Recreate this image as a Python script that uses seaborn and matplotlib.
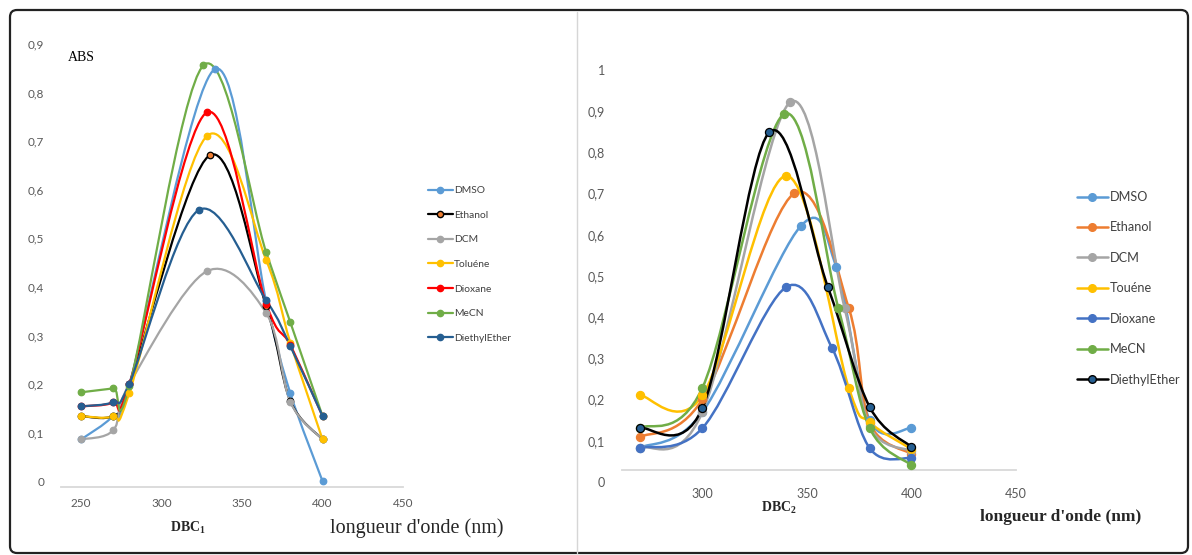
import numpy as np
import matplotlib
matplotlib.use("Agg")
import matplotlib.pyplot as plt
import seaborn as sns
from matplotlib.path import Path
from matplotlib.patches import PathPatch, FancyBboxPatch
from matplotlib.lines import Line2D
from matplotlib.transforms import IdentityTransform

# ---------------- data ----------------
solvents_1 = ["DMSO", "Ethanol", "DCM", "Toluéne", "Dioxane", "MeCN", "DiethylEther"]
x1_dmso = [250, 270, 280, 333, 365, 380, 400]
y1_dmso = [0.086, 0.135, 0.200, 0.848, 0.370, 0.181, 0.000]
x1_ethanol = [250, 270, 280, 330, 365, 380, 400]
y1_ethanol = [0.134, 0.135, 0.200, 0.671, 0.360, 0.165, 0.086]
x1_dcm = [250, 270, 280, 328, 365, 380, 400]
y1_dcm = [0.086, 0.105, 0.200, 0.432, 0.346, 0.163, 0.086]
x1_toluene = [250, 270, 280, 328, 365, 380, 400]
y1_toluene = [0.134, 0.134, 0.182, 0.710, 0.455, 0.285, 0.086]
x1_dioxane = [250, 270, 280, 328, 365, 380, 400]
y1_dioxane = [0.154, 0.162, 0.200, 0.759, 0.365, 0.280, 0.134]
x1_mecn = [250, 270, 280, 326, 365, 380, 400]
y1_mecn = [0.183, 0.191, 0.195, 0.856, 0.471, 0.327, 0.134]
x1_ether = [250, 270, 280, 323, 365, 380, 400]
y1_ether = [0.154, 0.163, 0.201, 0.558, 0.372, 0.278, 0.134]

solvents_2 = ["DMSO", "Ethanol", "DCM", "Touéne", "Dioxane", "MeCN", "DiethylEther"]
x2_dmso = [270, 300, 347, 364, 380, 400]
y2_dmso = [0.083, 0.170, 0.621, 0.522, 0.150, 0.131]
x2_ethanol = [270, 300, 344, 370, 380, 400]
y2_ethanol = [0.109, 0.201, 0.701, 0.422, 0.143, 0.068]
x2_dcm = [270, 300, 342, 368, 380, 400]
y2_dcm = [0.083, 0.170, 0.922, 0.422, 0.135, 0.075]
x2_toluene = [270, 300, 340, 370, 380, 400]
y2_toluene = [0.211, 0.210, 0.743, 0.228, 0.145, 0.080]
x2_dioxane = [270, 300, 340, 362, 380, 400]
y2_dioxane = [0.083, 0.131, 0.473, 0.325, 0.082, 0.058]
x2_mecn = [270, 300, 339, 365, 380, 400]
y2_mecn = [0.131, 0.229, 0.893, 0.422, 0.131, 0.041]
x2_ether = [270, 300, 332, 360, 380, 400]
y2_ether = [0.131, 0.180, 0.849, 0.473, 0.182, 0.085]

yticks_1 = [0, 0.1, 0.2, 0.3, 0.4, 0.5, 0.6, 0.7, 0.8, 0.9]
xticks_1 = [250, 300, 350, 400, 450]
yticks_2 = [0, 0.1, 0.2, 0.3, 0.4, 0.5, 0.6, 0.7, 0.8, 0.9, 1.0]
xticks_2 = [300, 350, 400, 450]

# ---------------- styles ----------------
BLUE, ORANGE, GRAY, GOLD = "#5B9BD5", "#ED7D31", "#A5A5A5", "#FFC000"
GREEN, DKBLUE, RED, MBLUE = "#70AD47", "#255E91", "#FF0000", "#4472C4"

# (line colour, marker face, marker edge)
styles_1 = [(BLUE, BLUE, BLUE), ("black", ORANGE, "black"), (GRAY, GRAY, GRAY),
            (GOLD, GOLD, GOLD), (RED, RED, RED), (GREEN, GREEN, GREEN),
            (DKBLUE, DKBLUE, DKBLUE)]
styles_2 = [(BLUE, BLUE, BLUE), (ORANGE, ORANGE, ORANGE), (GRAY, GRAY, GRAY),
            (GOLD, GOLD, GOLD), (MBLUE, MBLUE, MBLUE), (GREEN, GREEN, GREEN),
            ("black", DKBLUE, "black")]

series_1 = [(x1_dmso, y1_dmso), (x1_ethanol, y1_ethanol), (x1_dcm, y1_dcm),
            (x1_toluene, y1_toluene), (x1_dioxane, y1_dioxane), (x1_mecn, y1_mecn),
            (x1_ether, y1_ether)]
series_2 = [(x2_dmso, y2_dmso), (x2_ethanol, y2_ethanol), (x2_dcm, y2_dcm),
            (x2_toluene, y2_toluene), (x2_dioxane, y2_dioxane), (x2_mecn, y2_mecn),
            (x2_ether, y2_ether)]

sns.set_theme(style="white")
plt.rcParams["font.family"] = ["Lato", "DejaVu Sans"]
plt.rcParams["mathtext.fontset"] = "custom"
plt.rcParams["mathtext.rm"] = "Liberation Serif"
plt.rcParams["mathtext.bf"] = "Liberation Serif:bold"

W, H = 1192, 555
fig = plt.figure(figsize=(W / 100, H / 100), dpi=100)


def smooth_path(x, y):
    """Excel-like smoothed line: cubic Bezier segments through the data points."""
    P = np.column_stack([x, y]).astype(float)
    n = len(P)
    verts, codes = [P[0]], [Path.MOVETO]
    for i in range(n - 1):
        p0 = P[i - 1] if i > 0 else P[i]
        p3 = P[i + 2] if i + 2 < n else P[i + 1]
        c1 = P[i] + (P[i + 1] - p0) / 6.0
        c2 = P[i + 1] - (p3 - P[i]) / 6.0
        verts += [c1, c2, P[i + 1]]
        codes += [Path.CURVE4] * 3
    return Path(verts, codes)


def axes_px(left, top, right, bottom):
    return fig.add_axes([left / W, 1 - bottom / H, (right - left) / W, (bottom - top) / H])


def draw_panel(ax, series, styles, lw, ms):
    for (xs, ys), (lc, mf, me) in zip(series, styles):
        ax.add_patch(PathPatch(smooth_path(xs, ys), facecolor="none", edgecolor=lc,
                               lw=lw, zorder=2, capstyle="round"))
        sns.scatterplot(x=xs, y=ys, ax=ax, color=mf, edgecolor=me, linewidth=0.9,
                        s=ms, zorder=3, legend=False)


def fmt(v):
    s = ("%.1f" % v).rstrip("0").rstrip(".")
    return s.replace(".", ",")


def style_axes(ax, xticks, yticks, xpad, ypad):
    for side in ["top", "right", "left"]:
        ax.spines[side].set_visible(False)
    ax.spines["bottom"].set_color("#d9d9d9")
    ax.spines["bottom"].set_linewidth(1.3)
    ax.set_xticks(xticks)
    ax.set_xticklabels([str(t) for t in xticks])
    ax.set_yticks(yticks)
    ax.set_yticklabels([fmt(t) for t in yticks])
    ax.tick_params(axis="x", length=0, pad=xpad, labelsize=8.5, labelcolor="#595959")
    ax.tick_params(axis="y", length=0, pad=ypad, labelsize=8.5, labelcolor="#595959")
    ax.grid(False)
    ax.set_xlabel("")
    ax.set_ylabel("")
    ax.patch.set_alpha(0)


# ---------------- left panel ----------------
ax1 = axes_px(61, 44, 403, 487)
draw_panel(ax1, series_1, styles_1, lw=1.6, ms=22)
ax1.set_xlim(237.5, 450)
ax1.set_ylim(-0.012, 0.9)
style_axes(ax1, xticks_1, yticks_1, xpad=8, ypad=12)

h1 = [Line2D([0], [0], color=lc, lw=1.6, marker="o", markersize=4.5,
             markerfacecolor=mf, markeredgecolor=me) for lc, mf, me in styles_1]
fig.legend(h1, solvents_1, loc="upper left", bbox_to_anchor=(428 / W, 1 - 186 / H),
           frameon=False, fontsize=7.4, labelspacing=1.5, handlelength=2.4,
           handletextpad=0.15, borderpad=0, borderaxespad=0, labelcolor="#404040")

# ---------------- right panel ----------------
ax2 = axes_px(622, 70, 1016, 482)
draw_panel(ax2, series_2, styles_2, lw=1.8, ms=34)
ax2.set_xlim(261.5, 450)
ax2.set_ylim(0, 1.0)
ax2.spines["bottom"].set_position(("data", 0.029))
style_axes(ax2, xticks_2, yticks_2, xpad=13, ypad=12)
ax2.tick_params(axis="both", labelsize=9)

h2 = [Line2D([0], [0], color=lc, lw=1.8, marker="o", markersize=5.5,
             markerfacecolor=mf, markeredgecolor=me) for lc, mf, me in styles_2]
fig.legend(h2, solvents_2, loc="upper left", bbox_to_anchor=(1077 / W, 1 - 191 / H),
           frameon=False, fontsize=9.1, labelspacing=1.46, handlelength=2.45,
           handletextpad=0.15, borderpad=0, borderaxespad=0, labelcolor="#404040")

# ---------------- texts ----------------
fig.text(68 / W, 1 - 57 / H, "ABS", family="Liberation Serif", fontsize=10,
         va="center", ha="left", color="black")
fig.text(170 / W, 1 - 528 / H, r"$\mathbf{DBC}_{\mathbf{1}}$", fontsize=10,
         va="center", ha="left")
fig.text(330 / W, 1 - 528 / H, "longueur d'onde (nm)", family="Liberation Serif",
         fontsize=14.5, va="center", ha="left")
fig.text(761 / W, 1 - 508 / H, r"$\mathbf{DBC}_{\mathbf{2}}$", fontsize=10,
         va="center", ha="left")
fig.text(980 / W, 1 - 517 / H, "longueur d'onde (nm)", family="Liberation Serif",
         fontweight="bold", fontsize=12.5, va="center", ha="left")

# ---------------- frames ----------------
fig.add_artist(Line2D([577 / W, 577 / W], [1 - 553 / H, 1 - 12 / H], color="#d6d6d6",
                      lw=1.0, transform=fig.transFigure))
fig.add_artist(FancyBboxPatch((10, 2), 1178, 543,
                              boxstyle="round,pad=0,rounding_size=7",
                              transform=IdentityTransform(), fill=False,
                              edgecolor="#222222", lw=1.6))

fig.savefig("out.png", dpi=100)
